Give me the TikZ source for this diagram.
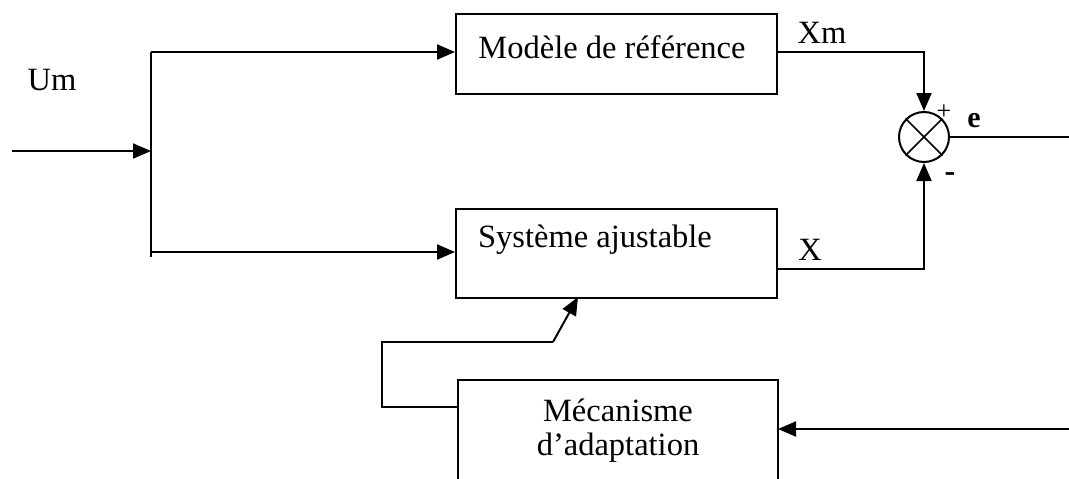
\documentclass[tikz,border=0pt]{standalone}
\usepackage{fontspec}
\setmainfont{Liberation Serif}
\usetikzlibrary{arrows.meta}
\begin{document}
\begin{tikzpicture}[x=1pt,y=-1pt,
  line width=2pt,
  arr/.style={-{Triangle[length=18pt,width=15pt]}},
  blk/.style={draw,rectangle,inner sep=0pt},
  lbl/.style={inner sep=0pt,font=\fontsize{32.5}{39}\selectfont},
  plain/.style={draw=none,inner sep=0pt}]
\useasboundingbox (0,0) rectangle (1069,479);
% blocks
\node[blk,minimum width=321pt,minimum height=80pt,anchor=north west] (mod) at (455,13) {};
\node[lbl] at (612,47) {Modèle de référence};
\node[blk,minimum width=321pt,minimum height=89pt,anchor=north west] (sys) at (455,208) {};
\node[lbl] at (595,240) {Système ajustable};
% comparator
\node[draw,circle,minimum size=50pt,inner sep=0pt] (cmp) at (924,137) {};
\draw[line width=1.6pt] (cmp.north west) -- (cmp.south east) (cmp.north east) -- (cmp.south west);
% mechanism (cut off at bottom)
\coordinate (mtl) at (458,380);
\coordinate (mtr) at (778,380);
\coordinate (mbl) at (458,479);
\coordinate (mbr) at (778,479);
\draw (mbl) -- (mtl) -- (mtr) -- (mbr);
\node[lbl] at (618,410) {Mécanisme};
\node[lbl] at (618,448) {d’adaptation};
% input
\coordinate (in) at (12,151);
\coordinate (jin) at (151,151);
\coordinate (jt) at (151,52);
\coordinate (jb) at (151,252);
\coordinate (jbe) at (151,257);
\draw[arr] (in) -- (jin);
\draw (jt) -- (jbe);
\draw[arr] (jt) -- (mod.west |- jt);
\draw[arr] (jb) -- (sys.west |- jb);
\node[lbl] at (52,80) {Um};
% outputs
\coordinate (xmc) at (924,52);
\draw[arr] (mod.east |- xmc) -- (xmc) -- (cmp.north);
\node[lbl] at (822,33) {Xm};
\coordinate (xc) at (924,269);
\draw[arr] (sys.east |- xc) -- (xc) -- (cmp.south);
\node[lbl] at (810,250) {X};
\coordinate (eout) at (1069,137);
\draw (cmp.east) -- (eout);
\node[lbl,font=\fontsize{30}{36}\selectfont\bfseries] at (974,121) {e};
\node[lbl,font=\fontsize{26}{30}\selectfont] at (944,112) {+};
\node[lbl,font=\fontsize{32}{36}\selectfont\bfseries] at (950,177) {-};
% feedback
\coordinate (fbin) at (1069,429);
\draw[arr] (fbin) -- (mtr |- fbin);
\coordinate (m1) at (382,407);
\coordinate (m2) at (382,342);
\coordinate (m3) at (553,342);
\coordinate (m4) at (578,297);
\draw (mtl |- m1) -- (m1) -- (m2) -- (m3);
\draw[arr] (m3) -- (m4);
\end{tikzpicture}
\end{document}
